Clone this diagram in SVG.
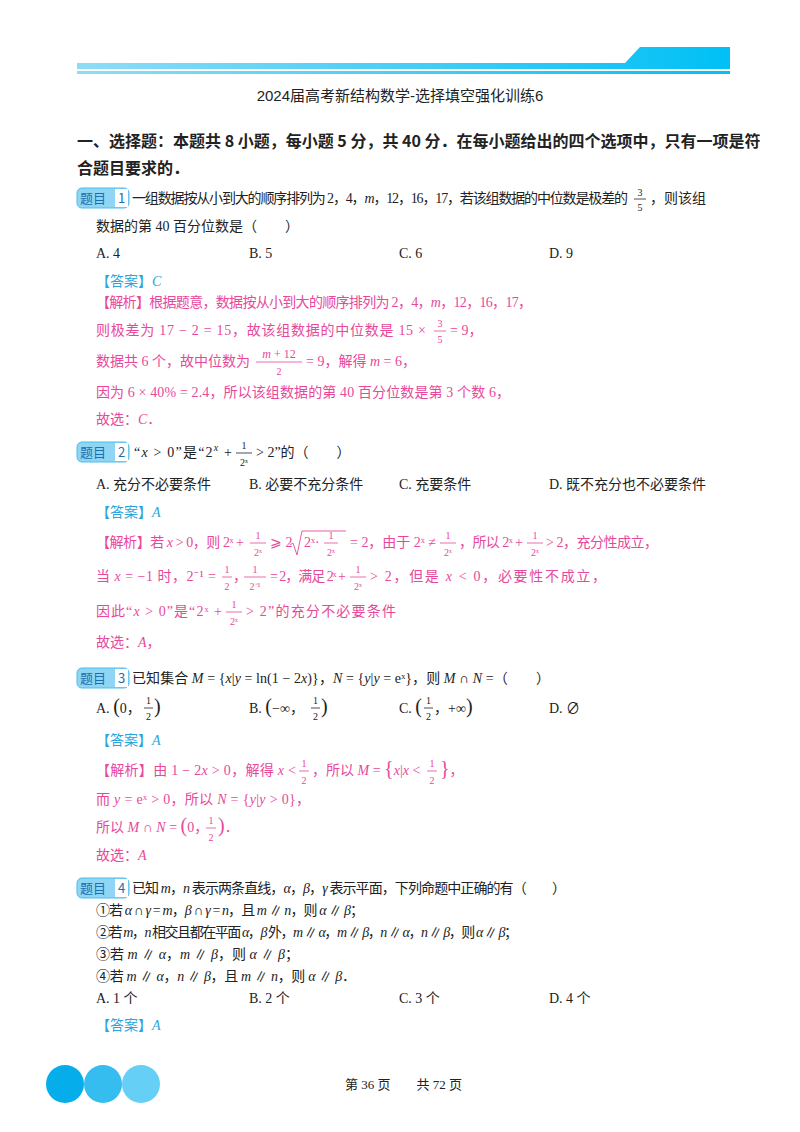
<svg xmlns="http://www.w3.org/2000/svg" width="800" height="1132" viewBox="0 0 800 1132">
<defs>
<linearGradient id="bar" x1="0" x2="1"><stop offset="0" stop-color="#8fdcf7"/><stop offset="1" stop-color="#00c0f5"/></linearGradient>
<style>
text{font-family:"Liberation Serif","Noto Sans CJK SC",serif;font-size:14px;fill:#222}
.t{font-size:15px;font-family:"Liberation Sans","Noto Sans CJK SC",sans-serif}
.h{font-size:16px;font-weight:bold;font-family:"Noto Sans CJK SC",sans-serif}
.p{fill:#e8489b}.a{fill:#2aa6dc}
.s{font-size:10px}.i{font-style:italic}
.fl{stroke:#222;stroke-width:0.8}.fp{stroke:#e8489b;stroke-width:0.8}
.bg{fill:#8fd6f6;stroke:#4fbbe9;stroke-width:1}
.bt{fill:#1d6fae;font-family:"Noto Sans CJK SC",sans-serif;font-size:13px}
</style>
</defs>
<g id="header">
<path d="M77 63 H625 L640 47 H730 V69 H77 Z" fill="url(#bar)"/>
<rect x="77" y="71" width="653" height="3" fill="url(#bar)"/>
<text class="t" x="400" y="101" text-anchor="middle">2024届高考新结构数学-选择填空强化训练6</text>
</g>
<g id="section">
<text class="h" x="77" y="147">一、选择题：本题共 8 小题，每小题 5 分，共 40 分．在每小题给出的四个选项中，只有一项是符</text>
<text class="h" x="77" y="174">合题目要求的．</text>
</g>
<g id="q1">
<rect class="bg" x="77" y="188" width="52" height="20" rx="5"/><rect x="115" y="189" width="13" height="18" fill="#fff"/>
<text class="bt" x="80" y="203">题目</text><text class="bt" x="118" y="203">1</text>
<text x="132" y="203" textLength="496">一组数据按从小到大的顺序排列为 2，4，<tspan class="i">m</tspan>，12，16，17，若该组数据的中位数是极差的</text>
<text x="640" y="196" class="s" text-anchor="middle">3</text><line class="fl" x1="634" y1="199" x2="646" y2="199"/><text x="640" y="211" class="s" text-anchor="middle">5</text>
<text x="650" y="203">，则该组</text>
<text x="96" y="231">数据的第 40 百分位数是（　　）</text>
<text x="96" y="258">A. 4</text><text x="249" y="258">B. 5</text><text x="399" y="258">C. 6</text><text x="549" y="258">D. 9</text>
<text class="a" x="96" y="286">【答案】<tspan class="i">C</tspan></text>
<text class="p" x="96" y="307" textLength="436">【解析】根据题意，数据按从小到大的顺序排列为 2，4，<tspan class="i">m</tspan>，12，16，17，</text>
<text class="p" x="96" y="335" textLength="330">则极差为 17 − 2 = 15，故该组数据的中位数是 15 ×</text>
<text class="p s" x="440" y="327" text-anchor="middle">3</text><line class="fp" x1="434" y1="331" x2="446" y2="331"/><text class="p s" x="440" y="343" text-anchor="middle">5</text>
<text class="p" x="450" y="335">= 9，</text>
<text class="p" x="96" y="366">数据共 6 个，故中位数为</text>
<text class="p s" x="279" y="358" text-anchor="middle" style="font-size:12px"><tspan class="i">m</tspan> + 12</text><line class="fp" x1="256" y1="362" x2="302" y2="362"/><text class="p s" x="279" y="375" text-anchor="middle">2</text>
<text class="p" x="306" y="366">= 9，解得 <tspan class="i">m</tspan> = 6，</text>
<text class="p" x="96" y="397" textLength="414">因为 6 × 40% = 2.4，所以该组数据的第 40 百分位数是第 3 个数 6，</text>
<text class="p" x="96" y="424">故选：<tspan class="i">C</tspan>．</text>
</g>
<g id="q2">
<rect class="bg" x="77" y="442" width="52" height="20" rx="5"/><rect x="115" y="443" width="13" height="18" fill="#fff"/>
<text class="bt" x="80" y="457">题目</text><text class="bt" x="118" y="457">2</text>
<text x="134" y="457" textLength="98">“<tspan class="i">x</tspan> &gt; 0”是“2<tspan class="s i" dy="-6">x</tspan><tspan dy="6"> +</tspan></text>
<text class="s" x="244" y="449" text-anchor="middle">1</text><line class="fl" x1="236" y1="453" x2="252" y2="453"/><text class="s" x="244" y="466" text-anchor="middle">2ˣ</text>
<text x="256" y="457">&gt; 2”的（　　）</text>
<text x="96" y="489">A. 充分不必要条件</text><text x="249" y="489">B. 必要不充分条件</text><text x="399" y="489">C. 充要条件</text><text x="549" y="489">D. 既不充分也不必要条件</text>
<text class="a" x="96" y="517">【答案】<tspan class="i">A</tspan></text>
<text class="p" x="96" y="547" textLength="148">【解析】若 <tspan class="i">x</tspan> &gt; 0，则 2ˣ +</text>
<text class="p s" x="258" y="539" text-anchor="middle">1</text><line class="fp" x1="250" y1="543" x2="266" y2="543"/><text class="p s" x="258" y="556" text-anchor="middle">2ˣ</text>
<text class="p" x="270" y="547">⩾ 2</text>
<path d="M290 545 l3 -2 l4 12 l5 -24 h44" fill="none" stroke="#e8489b" stroke-width="0.9"/>
<text class="p" x="304" y="547">2ˣ·</text>
<text class="p s" x="331" y="539" text-anchor="middle">1</text><line class="fp" x1="324" y1="543" x2="338" y2="543"/><text class="p s" x="331" y="556" text-anchor="middle">2ˣ</text>
<text class="p" x="350" y="547" textLength="86">= 2，由于 2ˣ ≠</text>
<text class="p s" x="448" y="539" text-anchor="middle">1</text><line class="fp" x1="440" y1="543" x2="456" y2="543"/><text class="p s" x="448" y="556" text-anchor="middle">2ˣ</text>
<text class="p" x="459" y="547" textLength="64">，所以 2ˣ +</text>
<text class="p s" x="535" y="539" text-anchor="middle">1</text><line class="fp" x1="527" y1="543" x2="543" y2="543"/><text class="p s" x="535" y="556" text-anchor="middle">2ˣ</text>
<text class="p" x="546" y="547" textLength="112">&gt; 2，充分性成立，</text>
<text class="p" x="96" y="581" textLength="120">当 <tspan class="i">x</tspan> = −1 时，2⁻¹ =</text>
<text class="p s" x="227" y="573" text-anchor="middle">1</text><line class="fp" x1="222" y1="577" x2="232" y2="577"/><text class="p s" x="227" y="590" text-anchor="middle">2</text>
<text class="p" x="233" y="581">，</text>
<text class="p s" x="255" y="573" text-anchor="middle">1</text><line class="fp" x1="244" y1="577" x2="266" y2="577"/><text class="p s" x="255" y="590" text-anchor="middle">2⁻¹</text>
<text class="p" x="270" y="581" textLength="76">= 2，满足 2ˣ +</text>
<text class="p s" x="358" y="573" text-anchor="middle">1</text><line class="fp" x1="350" y1="577" x2="366" y2="577"/><text class="p s" x="358" y="590" text-anchor="middle">2ˣ</text>
<text class="p" x="370" y="581" textLength="236">&gt; 2，但是 <tspan class="i">x</tspan> &lt; 0，必要性不成立，</text>
<text class="p" x="96" y="616" textLength="126">因此“<tspan class="i">x</tspan> &gt; 0”是“2ˣ +</text>
<text class="p s" x="234" y="608" text-anchor="middle">1</text><line class="fp" x1="226" y1="612" x2="242" y2="612"/><text class="p s" x="234" y="625" text-anchor="middle">2ˣ</text>
<text class="p" x="246" y="616" textLength="150">&gt; 2”的充分不必要条件</text>
<text class="p" x="96" y="647">故选：<tspan class="i">A</tspan>，</text>
</g>
<g id="q3">
<rect class="bg" x="77" y="668" width="52" height="20" rx="5"/><rect x="115" y="669" width="13" height="18" fill="#fff"/>
<text class="bt" x="80" y="683">题目</text><text class="bt" x="118" y="683">3</text>
<text x="132" y="683" textLength="418">已知集合 <tspan class="i">M</tspan> = {<tspan class="i">x</tspan>|<tspan class="i">y</tspan> = ln(1 − 2<tspan class="i">x</tspan>)}，<tspan class="i">N</tspan> = {<tspan class="i">y</tspan>|<tspan class="i">y</tspan> = eˣ}，则 <tspan class="i">M</tspan> ∩ <tspan class="i">N</tspan> =（　　）</text>
<text x="96" y="713">A. <tspan style="font-size:20px">(</tspan>0，</text><text class="s" x="146" y="704">1</text><line class="fl" x1="144" y1="708" x2="153" y2="708"/><text class="s" x="146" y="720">2</text><text x="154" y="713" style="font-size:20px">)</text>
<text x="249" y="713">B. <tspan style="font-size:20px">(</tspan>−∞，</text><text class="s" x="313" y="704">1</text><line class="fl" x1="311" y1="708" x2="320" y2="708"/><text class="s" x="313" y="720">2</text><text x="321" y="713" style="font-size:20px">)</text>
<text x="399" y="713">C. <tspan style="font-size:20px">(</tspan></text><text class="s" x="426" y="704">1</text><line class="fl" x1="424" y1="708" x2="433" y2="708"/><text class="s" x="426" y="720">2</text><text x="434" y="713">，+∞<tspan style="font-size:20px">)</tspan></text>
<text x="549" y="713">D. ∅</text>
<text class="a" x="96" y="745">【答案】<tspan class="i">A</tspan></text>
<text class="p" x="96" y="775" textLength="200">【解析】由 1 − 2<tspan class="i">x</tspan> &gt; 0，解得 <tspan class="i">x</tspan> &lt;</text>
<text class="p s" x="304" y="767" text-anchor="middle">1</text><line class="fp" x1="299" y1="771" x2="309" y2="771"/><text class="p s" x="304" y="784" text-anchor="middle">2</text>
<text class="p" x="312" y="775">，所以 <tspan class="i">M</tspan> = <tspan style="font-size:20px">{</tspan><tspan class="i">x</tspan>|<tspan class="i">x</tspan> &lt;</text>
<text class="p s" x="432" y="767" text-anchor="middle">1</text><line class="fp" x1="427" y1="771" x2="437" y2="771"/><text class="p s" x="432" y="784" text-anchor="middle">2</text>
<text class="p" x="440" y="775" style="font-size:20px">}<tspan style="font-size:14px">，</tspan></text>
<text class="p" x="96" y="804" textLength="214">而 <tspan class="i">y</tspan> = eˣ &gt; 0，所以 <tspan class="i">N</tspan> = {<tspan class="i">y</tspan>|<tspan class="i">y</tspan> &gt; 0}，</text>
<text class="p" x="96" y="832">所以 <tspan class="i">M</tspan> ∩ <tspan class="i">N</tspan> = <tspan style="font-size:20px">(</tspan>0，</text>
<text class="p s" x="211" y="824" text-anchor="middle">1</text><line class="fp" x1="206" y1="828" x2="216" y2="828"/><text class="p s" x="211" y="841" text-anchor="middle">2</text>
<text class="p" x="218" y="832"><tspan style="font-size:20px">)</tspan>．</text>
<text class="p" x="96" y="860">故选：<tspan class="i">A</tspan></text>
</g>
<g id="q4">
<rect class="bg" x="77" y="878" width="52" height="20" rx="5"/><rect x="115" y="879" width="13" height="18" fill="#fff"/>
<text class="bt" x="80" y="893">题目</text><text class="bt" x="118" y="893">4</text>
<text x="132" y="893" textLength="434">已知 <tspan class="i">m</tspan>，<tspan class="i">n</tspan> 表示两条直线，<tspan class="i">α</tspan>，<tspan class="i">β</tspan>，<tspan class="i">γ</tspan> 表示平面，下列命题中正确的有（　　）</text>
<text x="96" y="915" textLength="268">①若 <tspan class="i">α</tspan> ∩ <tspan class="i">γ</tspan> = <tspan class="i">m</tspan>，<tspan class="i">β</tspan> ∩ <tspan class="i">γ</tspan> = <tspan class="i">n</tspan>，且 <tspan class="i">m</tspan> ∥ <tspan class="i">n</tspan>，则 <tspan class="i">α</tspan> ∥ <tspan class="i">β</tspan>；</text>
<text x="96" y="937" textLength="422">②若 <tspan class="i">m</tspan>，<tspan class="i">n</tspan> 相交且都在平面 <tspan class="i">α</tspan>，<tspan class="i">β</tspan> 外，<tspan class="i">m</tspan> ∥ <tspan class="i">α</tspan>，<tspan class="i">m</tspan> ∥ <tspan class="i">β</tspan>，<tspan class="i">n</tspan> ∥ <tspan class="i">α</tspan>，<tspan class="i">n</tspan> ∥ <tspan class="i">β</tspan>，则 <tspan class="i">α</tspan> ∥ <tspan class="i">β</tspan>；</text>
<text x="96" y="959">③若 <tspan class="i">m</tspan> ∥ <tspan class="i">α</tspan>，<tspan class="i">m</tspan> ∥ <tspan class="i">β</tspan>，则 <tspan class="i">α</tspan> ∥ <tspan class="i">β</tspan>；</text>
<text x="96" y="981" textLength="260">④若 <tspan class="i">m</tspan> ∥ <tspan class="i">α</tspan>，<tspan class="i">n</tspan> ∥ <tspan class="i">β</tspan>，且 <tspan class="i">m</tspan> ∥ <tspan class="i">n</tspan>，则 <tspan class="i">α</tspan> ∥ <tspan class="i">β</tspan>．</text>
<text x="96" y="1003">A. 1 个</text><text x="249" y="1003">B. 2 个</text><text x="399" y="1003">C. 3 个</text><text x="549" y="1003">D. 4 个</text>
<text class="a" x="96" y="1030">【答案】<tspan class="i">A</tspan></text>
</g>
<g id="footer">
<circle cx="141" cy="1084" r="19" fill="#66cff5"/>
<circle cx="103" cy="1084" r="19" fill="#35bdf0"/>
<circle cx="65" cy="1084" r="19" fill="#05aeeb"/>
<text x="345" y="1089" style="font-size:13px">第 36 页　　共 72 页</text>
</g>
</svg>
